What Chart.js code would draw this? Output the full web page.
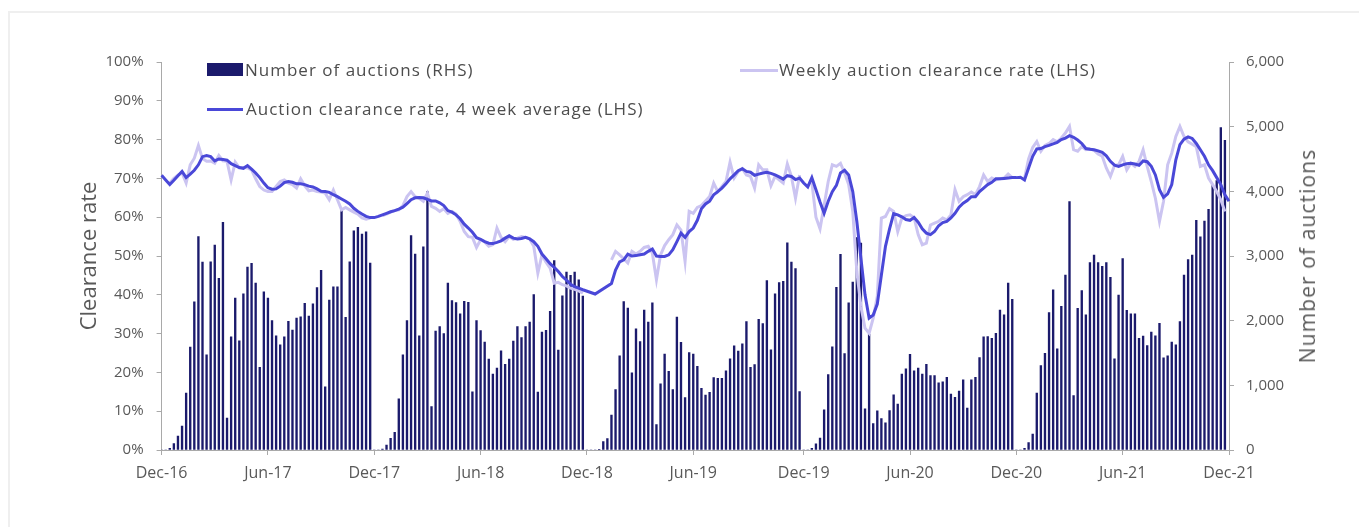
<!DOCTYPE html>
<html>
<head>
<meta charset="utf-8">
<script src="https://cdn.jsdelivr.net/npm/chart.js@4.4.0/dist/chart.umd.min.js"></script>
<style>
  body { margin: 0; background: #fff; }
  #wrap { position: relative; width: 1359px; height: 527px; overflow: hidden; font-family: 'Open Sans', sans-serif; }
  #frame { position: absolute; left: 8px; top: 11px; width: 1400px; height: 600px; border-left: 2px solid #efefef; border-top: 2px solid #efefef; }
  #chart { position: absolute; left: 0; top: 0; }
  .lg { position: absolute; font-size: 17px; letter-spacing: 1px; color: #4d4d4d; line-height: 20px; white-space: nowrap; }
  .sw { position: absolute; }
  #rtitle { position: absolute; left: 1307px; top: 256px; transform: translate(-50%, -50%) rotate(-90deg); font-size: 21px; letter-spacing: 1.1px; color: #595959; white-space: nowrap; }
</style>
</head>
<body>
<div id="wrap">
  <div id="frame"></div>
  <canvas id="chart" width="1359" height="527"></canvas>
  <div class="sw" style="left:207px;top:63px;width:36px;height:13px;background:#1b1a6c"></div>
  <div class="lg" style="left:245px;top:60px">Number of auctions (RHS)</div>
  <div class="sw" style="left:740px;top:69px;width:38px;height:3px;background:#cbc4f1"></div>
  <div class="lg" style="left:779px;top:60px">Weekly auction clearance rate (LHS)</div>
  <div class="sw" style="left:207px;top:108px;width:36px;height:3px;background:#4a48d8"></div>
  <div class="lg" style="left:246px;top:99px">Auction clearance rate, 4 week average (LHS)</div>
  <div id="rtitle">Number of auctions</div>
</div>
<script>
// weekly data, Dec-16 to Dec-21 (holiday weeks have no auctions)
const auctions = [
  0, 0, 25, 100, 215, 370, 880, 1590, 2290, 3300,
  2905, 1470, 2910, 3170, 2655, 3520, 495, 1750, 2350, 1690,
  2415, 2830, 2885, 2580, 1280, 2445, 2350, 2000, 1765, 1625,
  1750, 1990, 1855, 2040, 2060, 2270, 2070, 2260, 2510, 2780,
  975, 2320, 2525, 2525, 3710, 2050, 2910, 3390, 3445, 3340,
  3375, 2890, 0, 0, 15, 75, 180, 275, 790, 1470,
  2000, 3315, 3030, 1765, 3140, 3995, 670, 1840, 1910, 1800,
  2580, 2310, 2280, 2105, 2300, 2285, 900, 2000, 1845, 1670,
  1405, 1175, 1265, 1535, 1325, 1405, 1685, 1910, 1740, 1910,
  1980, 2405, 895, 1825, 1850, 2145, 2930, 1545, 2385, 2750,
  2700, 2750, 2630, 2380, 0, 0, 0, 10, 130, 175,
  540, 935, 1455, 2295, 2195, 1195, 1875, 1675, 2165, 1980,
  2275, 395, 1025, 1485, 1215, 935, 2055, 1665, 810, 1505,
  1485, 1295, 955, 850, 890, 1120, 1110, 1110, 1225, 1410,
  1610, 1530, 1640, 1985, 1280, 1320, 2020, 1955, 2620, 1550,
  2415, 2590, 2610, 3205, 2905, 2805, 905, 0, 0, 25,
  95, 185, 620, 1165, 1595, 2515, 3025, 1490, 2275, 2595,
  3285, 3200, 635, 1790, 410, 605, 485, 420, 610, 855,
  710, 1175, 1255, 1480, 1225, 1265, 1175, 1325, 1150, 1150,
  1040, 1055, 1125, 865, 815, 910, 1085, 650, 1085, 1125,
  1430, 1750, 1755, 1725, 1805, 2165, 2090, 2580, 2330, 0,
  0, 25, 115, 245, 880, 1305, 1495, 2125, 2475, 1565,
  2220, 2705, 3840, 840, 2190, 2465, 2090, 2900, 3015, 2900,
  2840, 2900, 2670, 1410, 2395, 2960, 2160, 2105, 2105, 1725,
  1760, 1615, 1825, 1765, 1960, 1425, 1455, 1670, 1625, 1985,
  2705, 2945, 3015, 3550, 3295, 3540, 3720, 4100, 4165, 4985,
  4790, null
];

const weeklyRate = [
  70.5, null, 68.8, 70.0, 70.9, 71.4, 68.8, 73.5, 75.2, 78.5,
  75.1, 74.4, 74.5, 73.9, 75.9, 74.5, 74.4, 69.6, 74.2, 72.7,
  72.8, 72.7, 72.2, 69.9, 67.9, 67.0, 66.6, 66.6, 67.9, 69.2,
  69.6, 68.8, 68.4, 67.5, 69.9, 68.1, 66.8, 67.0, 66.6, 66.5,
  66.2, 64.5, 67.0, 64.5, 61.9, 62.5, 61.9, 61.3, 60.8, 59.8,
  59.5, 59.8, null, null, 60.4, 60.8, 61.3, 61.7, 61.9, 63.0,
  65.3, 66.6, 65.3, 64.9, 64.1, 66.2, 62.8, 62.3, 61.5, 62.2,
  61.0, 61.5, 60.8, 58.9, 56.3, 55.0, 54.8, 52.2, 54.2, 53.6,
  52.5, 52.9, 57.2, 54.8, 53.7, 55.0, 54.3, 54.6, 55.0, 54.8,
  54.4, 52.5, 45.6, 50.3, 48.4, 46.9, 43.0, 43.2, 42.6, 42.3,
  41.7, 41.4, 41.0, 40.4, null, null, null, null, null, null,
  49.0, 51.2, 50.3, 49.3, 48.2, 51.2, 50.5, 51.2, 52.2, 52.5,
  50.7, 43.9, 50.3, 52.7, 54.2, 55.5, 58.0, 56.7, 48.6, 61.5,
  61.0, 62.5, 63.0, 64.2, 65.3, 68.8, 66.6, 67.9, 69.2, 74.2,
  70.1, 71.8, 72.5, 70.9, 70.5, 67.5, 73.5, 72.2, 72.2, 68.1,
  70.5, 69.6, 68.8, 73.7, 70.5, 64.9, 70.9, null, null, 69.0,
  60.0, 57.0, 63.0, 69.2, 73.5, 73.1, 73.9, 71.4, 68.4, 61.5,
  46.0, 37.0, 31.4, 30.1, 34.0, 39.6, 59.8, 60.2, 62.2, 61.5,
  56.3, 59.8, 60.4, 60.6, 59.9, 55.5, 52.9, 53.3, 58.0, 58.5,
  58.9, 59.8, 59.3, 60.6, 67.1, 64.1, 65.3, 65.8, 66.5, 65.8,
  67.9, 70.9, 69.2, 70.1, 69.6, 69.9, 70.1, 71.1, 70.2, null,
  null, 70.0, 75.0, 78.0, 79.5, 77.0, 78.5, 79.0, 80.0, 79.4,
  80.4, 81.7, 83.4, 77.4, 77.0, 78.2, 77.4, 77.6, 77.2, 76.3,
  75.7, 72.7, 70.5, 73.3, 73.5, 75.7, 72.2, 73.9, 73.1, 74.4,
  77.4, 73.1, 69.2, 64.9, 58.9, 64.1, 73.5, 76.5, 80.8, 83.4,
  80.8, 79.4, 78.8, 78.2, 73.1, 73.5, 70.1, 68.4, 66.6, 64.5,
  61.5, null
];

const avgRate = [
  70.8, 69.6, 68.4, 69.5, 70.7, 71.8, 70.2, 71.1, 72.1, 73.5,
  75.6, 75.9, 75.6, 74.5, 75.0, 74.9, 74.7, 73.8, 73.3, 72.8,
  72.6, 73.3, 72.4, 71.4, 70.2, 68.8, 67.6, 67.2, 67.3, 68.0,
  68.9, 69.2, 69.0, 68.6, 68.6, 68.4, 68.0, 67.8, 67.3, 66.7,
  66.6, 66.4, 65.8, 65.3, 64.7, 64.1, 63.4, 62.3, 61.5, 60.8,
  60.2, 59.9, 59.9, 60.2, 60.6, 61.0, 61.4, 61.7, 62.1, 62.6,
  63.5, 64.5, 65.0, 65.1, 65.0, 64.6, 64.2, 64.2, 63.7, 63.0,
  61.7, 61.3, 60.6, 59.6, 58.2, 57.2, 56.1, 54.7, 54.3, 53.7,
  53.3, 53.2, 53.5, 53.9, 54.6, 55.2, 54.6, 54.4, 54.5, 54.8,
  54.4, 53.7, 52.5, 50.5, 49.3, 48.0, 47.1, 46.0, 44.7, 43.8,
  42.7, 42.1, 41.7, 41.3, null, null, 40.2, null, null, null,
  42.9, 46.4, 48.5, 49.0, 50.5, 50.0, 50.1, 50.3, 50.5, 51.2,
  51.8, 50.0, 49.9, 49.9, 50.3, 51.6, 53.7, 55.9, 54.8, 56.3,
  57.2, 59.2, 62.2, 63.4, 64.1, 65.8, 66.6, 67.5, 68.6, 69.9,
  70.9, 72.0, 72.5, 71.8, 71.6, 70.8, 71.1, 71.4, 71.6, 71.3,
  70.9, 70.4, 69.8, 70.7, 70.5, 69.7, 70.1, 68.8, 67.8, 70.2,
  67.1, 63.9, 61.0, 64.1, 66.6, 68.2, 71.4, 72.1, 70.9, 66.6,
  58.9, 49.4, 40.0, 34.0, 34.8, 37.6, 45.1, 52.5, 57.0, 60.9,
  60.6, 60.1, 59.4, 59.2, 59.9, 58.7, 57.0, 55.9, 55.5, 56.3,
  57.8, 58.6, 58.9, 59.8, 61.0, 62.6, 63.6, 64.3, 65.3, 65.3,
  66.6, 67.5, 68.4, 69.0, 69.9, 69.9, 70.0, 70.1, 70.2, 70.2,
  70.3, 69.6, 72.7, 75.7, 77.6, 77.7, 78.2, 78.5, 78.9, 79.3,
  80.0, 80.4, 81.0, 80.6, 79.9, 79.0, 77.7, 77.5, 77.4, 77.1,
  76.7, 75.8, 74.4, 73.4, 73.1, 73.5, 73.8, 73.9, 73.7, 73.4,
  74.5, 74.3, 73.1, 70.9, 67.1, 65.1, 66.0, 68.4, 74.8, 78.7,
  80.1, 80.7, 80.3, 79.0, 77.4, 75.7, 73.5, 72.0, 70.2, 68.4,
  65.8, 64.1
];

const tickLabels = ['Dec-16', 'Jun-17', 'Dec-17', 'Jun-18', 'Dec-18', 'Jun-19', 'Dec-19', 'Jun-20', 'Dec-20', 'Jun-21', 'Dec-21'];
const tickWeeks = [0, 26, 52, 78, 104, 130, 157, 183, 209, 235, 261];

// week-ending dates as categories
const firstWeek = Date.UTC(2016, 11, 25);
const weeks = auctions.map((_, i) => new Date(firstWeek + i * 7 * 864e5).toISOString().slice(0, 10));

const axisGrey = '#a9a9a9';
const labelGrey = '#595959';
const fontFamily = "'Open Sans', sans-serif";

const ctx = document.getElementById('chart').getContext('2d');

const chart = new Chart(ctx, {
    data: {
        labels: weeks,
        datasets: [
            {
                type: 'line',
                label: 'Auction clearance rate, 4 week average (LHS)',
                data: avgRate,
                yAxisID: 'y',
                borderColor: '#4a48d8',
                borderWidth: 3,
                pointRadius: 0,
                tension: 0,
                spanGaps: true,
                order: 1
            },
            {
                type: 'line',
                label: 'Weekly auction clearance rate (LHS)',
                data: weeklyRate,
                yAxisID: 'y',
                borderColor: '#cbc4f1',
                borderWidth: 3,
                pointRadius: 0,
                tension: 0,
                spanGaps: false,
                order: 2
            },
            {
                type: 'bar',
                label: 'Number of auctions (RHS)',
                data: auctions,
                yAxisID: 'y1',
                backgroundColor: '#1b1a6c',
                barThickness: 1.7,
                order: 3
            }
        ]
    },
    options: {
        responsive: false,
        animation: false,
        devicePixelRatio: 1,
        layout: { padding: { top: 62, bottom: 0, left: 0, right: 0 } },
        plugins: {
            legend: { display: false },
            tooltip: { enabled: false }
        },
        scales: {
            x: {
                type: 'category',
                offset: false,
                grid: { drawOnChartArea: false, drawTicks: true, tickLength: 5, color: axisGrey, offset: false },
                border: { display: true, color: axisGrey },
                ticks: {
                    autoSkip: false,
                    maxRotation: 0,
                    padding: 9,
                    color: labelGrey,
                    font: { family: fontFamily, size: 16 },
                    callback: (value) => tickLabels[tickWeeks.indexOf(value)]
                },
                afterBuildTicks: (s) => { s.ticks = s.ticks.filter(t => tickWeeks.includes(t.value)); },
                afterFit: (s) => { s.height = 77; }
            },
            y: {
                position: 'left',
                min: 0,
                max: 100,
                grid: { drawOnChartArea: false, drawTicks: true, tickLength: 5, color: axisGrey },
                border: { display: true, color: axisGrey },
                ticks: {
                    stepSize: 10,
                    padding: 13,
                    color: labelGrey,
                    font: { family: fontFamily, size: 15 },
                    callback: (v) => v + '%'
                },
                title: {
                    display: true,
                    text: 'Clearance rate',
                    color: labelGrey,
                    font: { family: fontFamily, size: 22 },
                    padding: { top: 77, bottom: 0 }
                },
                afterFit: (s) => { s.width = 161.6; }
            },
            y1: {
                position: 'right',
                min: 0,
                max: 6000,
                grid: { drawOnChartArea: false, drawTicks: true, tickLength: 5, color: axisGrey },
                border: { display: true, color: axisGrey },
                ticks: {
                    stepSize: 1000,
                    padding: 12,
                    color: labelGrey,
                    font: { family: fontFamily, size: 15 },
                    callback: (v) => v.toLocaleString('en-US')
                },
                afterFit: (s) => { s.width = 130; }
            }
        }
    }
});
</script>
</body>
</html>
